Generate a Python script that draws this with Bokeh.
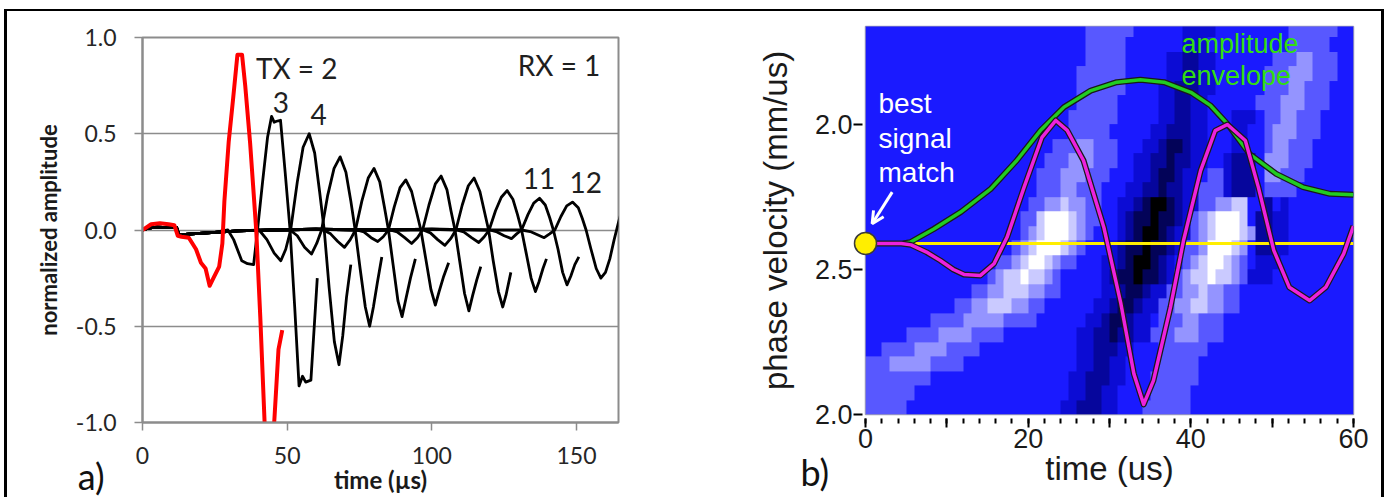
import numpy as np
from bokeh.plotting import figure
from bokeh.layouts import row
from bokeh.models import (Range1d, FixedTicker, SingleIntervalTicker, NumeralTickFormatter,
                          Arrow, OpenHead, LinearColorMapper)
from bokeh.core.properties import value
from bokeh.embed import file_html
from bokeh.resources import INLINE

# ---------------- panel a) data (time in us, normalized amplitude) ----------------
tx_time = [0, 1.5, 3, 6, 9, 11, 12.2, 13.5, 16, 18.5, 20.2, 21.8, 23.2, 24.5, 26.5, 27.6, 28.3,
           29.8, 31.3, 32.8, 34.4, 35.5, 37.2, 39.3, 40.7, 42.2, 43.5, 45.4, 47.0, 48.3]
tx_amp = [0, 0.015, 0.03, 0.035, 0.03, 0.025, -0.03, -0.035, -0.04, -0.1, -0.17, -0.2, -0.29, -0.25,
          -0.19, -0.07, 0.15, 0.46, 0.68, 0.91, 0.91, 0.75, 0.45, 0.0, -0.45, -1.0, -1.03, -1.03, -0.62, -0.52]

baseline_time = [0, 2, 5, 9, 11.8, 12.6, 17, 25, 33, 45, 60, 80, 100, 120]
baseline_amp = [0, 0.01, 0.015, 0.012, 0.012, -0.025, -0.02, -0.012, -0.005, 0.0, 0.004, 0.0, 0.004, 0.0]

rx3_time = [29.5, 31.5, 34.3, 36.3, 38.4, 39.6, 41.5, 43.2, 44.6, 45.5, 46.3, 47.7, 49.3, 51.0, 52.6, 54.1, 55.3, 56.4, 58.2, 60.4]
rx3_amp = [0.0, -0.05, -0.16, -0.175, -0.18, -0.02, 0.25, 0.48, 0.59, 0.56, 0.565, 0.57, 0.3, 0.0, -0.4, -0.81, -0.76, -0.79, -0.78, -0.25]
rx4_time = [40.3, 43.0, 45.5, 47.8, 49.5, 51.2, 53.5, 55.5, 57.6, 59.5, 61.2, 62.8, 64.5, 66.3, 67.9, 69.2, 70.5, 72.0]
rx4_amp = [0.0, -0.05, -0.12, -0.16, -0.1, 0.0, 0.25, 0.43, 0.5, 0.4, 0.2, 0.0, -0.3, -0.58, -0.70, -0.55, -0.35, -0.18]
rx5_time = [51.0, 53.5, 56.0, 58.4, 60.2, 61.9, 64.0, 66.2, 68.3, 70.3, 72.0, 73.5, 75.2, 77.0, 78.5, 79.8, 81.2, 82.7]
rx5_amp = [0.0, -0.03, -0.09, -0.125, -0.07, 0.0, 0.18, 0.32, 0.38, 0.3, 0.15, 0.0, -0.2, -0.4, -0.50, -0.4, -0.27, -0.14]
rx6_time = [62.5, 65.0, 67.5, 69.8, 71.8, 73.6, 75.8, 78.0, 80.0, 82.0, 83.6, 85.0, 86.6, 88.3, 89.7, 91.0, 92.6, 94.3]
rx6_amp = [0.0, -0.02, -0.06, -0.09, -0.05, 0.0, 0.15, 0.27, 0.32, 0.25, 0.12, 0.0, -0.18, -0.37, -0.45, -0.36, -0.25, -0.15]
rx7_time = [74.0, 76.5, 79.0, 81.3, 83.2, 85.0, 87.0, 89.0, 91.0, 93.0, 94.6, 96.2, 97.9, 99.7, 101.2, 102.5, 104.1, 105.8]
rx7_amp = [0.0, -0.01, -0.04, -0.06, -0.035, 0.0, 0.12, 0.22, 0.26, 0.2, 0.1, 0.0, -0.15, -0.31, -0.39, -0.32, -0.24, -0.17]
rx8_time = [85.5, 88.0, 90.6, 93.0, 95.0, 96.8, 99.0, 101.2, 103.2, 105.2, 106.6, 108.0, 109.6, 111.3, 112.8, 114.1, 115.5, 116.9]
rx8_amp = [0.0, -0.01, -0.04, -0.07, -0.04, 0.0, 0.13, 0.24, 0.28, 0.21, 0.1, 0.0, -0.16, -0.33, -0.42, -0.34, -0.26, -0.19]
rx9_time = [97.0, 99.5, 102.0, 104.5, 106.5, 108.3, 110.5, 112.6, 114.6, 116.6, 118.1, 119.6, 121.2, 123.0, 124.5, 125.6, 127.3]
rx9_amp = [0.0, -0.015, -0.05, -0.08, -0.045, 0.0, 0.13, 0.23, 0.27, 0.2, 0.1, 0.0, -0.16, -0.32, -0.40, -0.34, -0.22]
rx10_time = [108.5, 111.0, 113.7, 116.2, 118.1, 119.8, 122.0, 124.0, 126.0, 128.0, 129.6, 131.0, 132.6, 134.3, 135.8, 137.0, 138.4, 139.6]
rx10_amp = [0.0, -0.01, -0.04, -0.065, -0.035, 0.0, 0.1, 0.17, 0.205, 0.16, 0.08, 0.0, -0.12, -0.25, -0.32, -0.27, -0.2, -0.15]
rx11_time = [120.0, 122.5, 125.0, 127.5, 129.3, 131.0, 133.2, 135.2, 137.2, 139.2, 140.7, 142.0, 143.6, 145.2, 146.7, 148.0, 149.4, 150.8]
rx11_amp = [0.0, -0.01, -0.03, -0.045, -0.02, 0.0, 0.08, 0.14, 0.165, 0.13, 0.065, 0.0, -0.1, -0.22, -0.285, -0.24, -0.18, -0.14]
rx12_time = [131.0, 134.0, 136.5, 138.8, 140.7, 142.5, 144.6, 146.6, 148.6, 150.6, 152.0, 153.3, 155.0, 156.8, 158.4, 160.0, 161.5, 163.0, 164.5, 166.0]
rx12_amp = [0.0, -0.008, -0.025, -0.04, -0.02, 0.0, 0.07, 0.125, 0.145, 0.115, 0.06, 0.0, -0.1, -0.2, -0.25, -0.22, -0.15, -0.05, 0.04, 0.12]

a_x_ticks = [0, 50, 100, 150]
a_y_ticks = [-1.0, -0.5, 0.0, 0.5, 1.0]

# ---------------- panel b) data ----------------
signal_time = [0, 4.4, 5.6, 7.5, 9.2, 10.8, 12.1, 14.1, 15.8, 17.4, 19.5, 21.7, 23.4, 24.8, 26.8, 29.3,
               31.4, 33.0, 34.2, 35.4, 37.5, 39.1, 41.2, 43.0, 44.5, 46.7, 48.3, 50.2, 52.1, 54.6, 56.6, 58.8, 60.0]
signal_vel = [2.59, 2.59, 2.585, 2.56, 2.531, 2.50, 2.483, 2.479, 2.52, 2.611, 2.784, 2.956, 3.014, 2.98, 2.876, 2.646,
              2.382, 2.14, 2.035, 2.117, 2.37, 2.6, 2.841, 2.979, 3.0, 2.945, 2.784, 2.566, 2.439, 2.393, 2.439, 2.555, 2.65]
envelope_time = [4.6, 5.5, 8.4, 11.7, 15.4, 18.6, 21.5, 24.4, 27.7, 30.9, 33.8, 36.7, 40.0, 42.4, 44.5, 47.2,
                 50.5, 53.8, 57.1, 60.0]
envelope_vel = [2.59, 2.594, 2.64, 2.698, 2.778, 2.876, 2.979, 3.06, 3.117, 3.146, 3.154, 3.146, 3.111, 3.066,
                3.002, 2.899, 2.83, 2.784, 2.761, 2.758]
best_velocity = 2.59
b_y_ticks = [2.0, 2.5, 3.0]

# correlation map: 27 rows from top (v 3.30-3.35) to bottom (v 2.00-2.05),
# 60 columns of 1 us each; level 0 = black, 4 = background blue, 8 = white
correlation_rows = [
    "4444444444 4444444444 4444444555 5554444443 3334444444 4455555544",
    "4444444444 4444444444 4444444555 5544444443 3344444444 4455555444",
    "4444444444 4444444444 4444444555 5544444332 2334444444 5556655544",
    "4444444444 4444444444 4444445555 5544444332 2334444445 5566655544",
    "4444444444 4444444444 4444445555 5544443322 2334444445 5566555444",
    "4444444444 4444444444 4444445555 5444443322 3344444455 5666555444",
    "4444444444 4444444444 4444455555 5444443322 3344433345 5665554444",
    "4444444444 4444444444 4444455555 4444433222 3344433445 6665554444",
    "4444444444 4444444444 4445556655 5444332112 3344433445 6655544444",
    "4444444444 4444444444 4455566655 5443322122 3344322246 6655544444",
    "4444444444 4444444444 4555666555 4443321123 3455322246 6555444444",
    "4444444444 4444444444 4555665554 4433221223 3555322245 5554444444",
    "4444444444 4444444444 5566766554 4332100123 3556677442 4344444444",
    "4444444444 4444444445 5788876554 4321101123 5678887422 3344444444",
    "4444444444 4444444445 6788876544 4321001233 5678887622 3344444444",
    "4444444444 4444444456 7888765444 3211011235 5688876422 3344444444",
    "4444444444 4444445567 8876554443 3210012345 6788765433 3444444444",
    "4444444444 4444456778 7765444443 2110112356 7787765333 4444444444",
    "4444444444 4445566777 6655444443 3211233556 6766554444 4444444444",
    "4444444444 4556677766 5544444433 2112335566 7766554444 4444444444",
    "4444444455 5566666555 5444444332 1123345556 6555444444 4444444444",
    "4444455556 6665555444 4444443322 1223355566 6555444444 4444444444",
    "4455556666 5555444444 4444443322 2334445555 5544444444 4444444444",
    "5556666655 5544444444 4444443322 3344445555 5444444444 4444444444",
    "5555555544 4444444444 4444433222 3344455555 5444444444 4444444444",
    "5555554444 4444444444 4444433223 3444455555 4444444444 4444444444",
    "5555544444 4444444444 4444332223 3444555555 4444444444 4444444444",
]
heat_palette = ["#000000", "#030358", "#06069c", "#0c0cd4", "#1a1aff", "#5858ff", "#9494ff", "#cacaff", "#ffffff"]

heat_cells = [r_.replace(" ", "") for r_ in correlation_rows]
for r_ in heat_cells:
    assert len(r_) == 60, (r_, len(r_))

FONT_A = "Lato"
FONT_B = "Liberation Sans"
GRAY = "#8c8c8c"


def no_frame_align(p):
    if "frame_align" in p.properties():
        p.frame_align = False


# ---------------- panel a ----------------
p1 = figure(x_range=Range1d(0, 164.5), y_range=Range1d(-1, 1),
            frame_width=476, frame_height=385,
            min_border_left=135, min_border_right=72, min_border_top=26, min_border_bottom=75,
            output_backend="svg", toolbar_location=None,
            background_fill_color="white", border_fill_color="white")
no_frame_align(p1)
p1.outline_line_color = GRAY
p1.outline_line_width = 2
p1.xgrid.grid_line_color = None
p1.ygrid.grid_line_color = GRAY
p1.ygrid.grid_line_width = 1.5

p1.xaxis.ticker = FixedTicker(ticks=a_x_ticks, minor_ticks=[])
p1.yaxis.ticker = FixedTicker(ticks=a_y_ticks, minor_ticks=[])
p1.yaxis.formatter = NumeralTickFormatter(format="0.0")
for ax in (p1.xaxis[0], p1.yaxis[0]):
    ax.axis_line_color = GRAY
    ax.axis_line_width = 2
    ax.major_tick_line_color = GRAY
    ax.major_tick_line_width = 1.5
    ax.major_tick_in = 0
    ax.major_tick_out = 8
    ax.minor_tick_line_color = None
    ax.major_label_text_font = FONT_A
    ax.major_label_text_font_size = "23px"
    ax.major_label_text_color = "#262626"
    ax.axis_label_text_font = FONT_A
    ax.axis_label_text_font_style = "bold"
    ax.axis_label_text_color = "#1a1a1a"
p1.xaxis.major_label_standoff = 16
p1.yaxis.major_label_standoff = 18
p1.xaxis.axis_label = "time (µs)"
p1.xaxis.axis_label_text_font_size = "24px"
p1.xaxis.axis_label_standoff = -2
p1.yaxis.axis_label = "normalized amplitude"
p1.yaxis.axis_label_text_font_size = "22px"
p1.yaxis.axis_label_standoff = 11

rx_series = [(rx3_time, rx3_amp), (rx4_time, rx4_amp), (rx5_time, rx5_amp), (rx6_time, rx6_amp),
             (rx7_time, rx7_amp), (rx8_time, rx8_amp), (rx9_time, rx9_amp), (rx10_time, rx10_amp),
             (rx11_time, rx11_amp), (rx12_time, rx12_amp)]
for wt, wv in rx_series:
    pre_t = [t for t in baseline_time if t < wt[0]]
    pre_v = [v for t, v in zip(baseline_time, baseline_amp) if t < wt[0]]
    p1.line(pre_t + wt, pre_v + wv, line_color="black", line_width=2.8, line_join="round")
p1.line(tx_time, tx_amp, line_color="#ff0000", line_width=4, line_join="round")

p1.text(x=[39.2, 129.7], y=[0.843, 0.857], text=["TX = 2", "RX = 1"], text_font=value(FONT_A),
        text_font_size="28px", text_color="#1f1f1f", text_align="left", text_baseline="middle")
p1.text(x=[47.8, 60.9, 137.0, 153.2], y=[0.66, 0.60, 0.266, 0.246], text=["3", "4", "11", "12"],
        text_font=value(FONT_A), text_font_size="28px", text_color="#1f1f1f",
        text_align="center", text_baseline="middle")
p1.text(x=[-22.4], y=[-1.276], text=["a)"], text_font=value(FONT_A), text_font_size="36px",
        text_color="#111111", text_align="left", text_baseline="middle", level="overlay")

# ---------------- panel b ----------------
p2 = figure(x_range=Range1d(0, 60), y_range=Range1d(2.0, 3.338),
            frame_width=488, frame_height=388,
            min_border_left=175, min_border_right=28, min_border_top=15, min_border_bottom=83,
            output_backend="svg", toolbar_location=None,
            background_fill_color="white", border_fill_color="white")
no_frame_align(p2)
p2.outline_line_color = "#a0a0b8"
p2.outline_line_width = 1.5
p2.grid.visible = False

heat = np.array([[int(ch) for ch in r_] for r_ in reversed(heat_cells)], dtype=float)
mapper = LinearColorMapper(palette=heat_palette, low=-0.5, high=8.5)
p2.image(image=[heat], x=0, y=2.0, dw=60, dh=1.35, color_mapper=mapper)

p2.line([0, 60], [best_velocity, best_velocity], line_color="#ffee00", line_width=3)
p2.line(envelope_time, envelope_vel, line_color="#1a1a1a", line_width=6, line_join="round")
p2.line(envelope_time, envelope_vel, line_color="#22cc22", line_width=3.5, line_join="round")
p2.line(signal_time, signal_vel, line_color="#1a1a1a", line_width=6, line_join="round")
p2.line(signal_time, signal_vel, line_color="#ee22dd", line_width=3.5, line_join="round")
p2.scatter([0], [best_velocity], size=22, fill_color="#ffee00", line_color="#3a3a3a", line_width=1.5,
           level="overlay")

p2.text(x=[1.6, 1.6, 1.6], y=[3.072, 2.952, 2.834], text=["best", "signal", "match"],
        text_font=value(FONT_B), text_font_size="28px", text_color="white",
        text_align="left", text_baseline="middle")
p2.text(x=[38.85, 38.85], y=[3.279, 3.169], text=["amplitude", "envelope"],
        text_font=value(FONT_B), text_font_size="27px", text_color="#33dd11",
        text_align="left", text_baseline="middle")
p2.add_layout(Arrow(end=OpenHead(size=12, line_color="white", line_width=3),
                    x_start=3.28, y_start=2.767, x_end=0.82, y_end=2.658,
                    line_color="white", line_width=3))
p2.text(x=[-8.0], y=[1.80], text=["b)"], text_font=value(FONT_A), text_font_size="36px",
        text_color="#111111", text_align="left", text_baseline="middle", level="overlay")

p2.xaxis.ticker = SingleIntervalTicker(interval=10, num_minor_ticks=5)
p2.xaxis.major_label_overrides = {10: "", 30: "", 50: ""}
p2.yaxis.ticker = FixedTicker(ticks=b_y_ticks, minor_ticks=[])
p2.yaxis.formatter = NumeralTickFormatter(format="0.0")
p2.yaxis.major_label_overrides = {3: "2.0"}
for ax in (p2.xaxis[0], p2.yaxis[0]):
    ax.axis_line_color = None
    ax.major_tick_line_color = "black"
    ax.major_tick_line_width = 2
    ax.minor_tick_line_color = "black"
    ax.minor_tick_line_width = 2
    ax.major_label_text_font = FONT_B
    ax.major_label_text_font_size = "27px"
    ax.major_label_text_color = "#1a1a1a"
    ax.axis_label_text_font = FONT_B
    ax.axis_label_text_font_style = "normal"
    ax.axis_label_text_font_size = "33px"
    ax.axis_label_text_color = "#1a1a1a"
p2.xaxis.major_tick_in = -4
p2.xaxis.major_tick_out = 13
p2.xaxis.minor_tick_in = -4
p2.xaxis.minor_tick_out = 9
p2.xaxis.major_label_standoff = 1
p2.xaxis.axis_label = "time (us)"
p2.xaxis.axis_label_standoff = -1
p2.yaxis.major_tick_in = -3
p2.yaxis.major_tick_out = 12
p2.yaxis.major_label_standoff = 1
p2.yaxis.axis_label = "phase velocity (mm/us)"
p2.yaxis.axis_label_standoff = 18

layout = row(p1, p2, styles={"border-top": "2px solid black", "border-left": "3px solid black",
                             "border-right": "3px solid black", "margin-left": "4px", "margin-top": "9px"})

open("out.html", "w").write(file_html(layout, INLINE))
